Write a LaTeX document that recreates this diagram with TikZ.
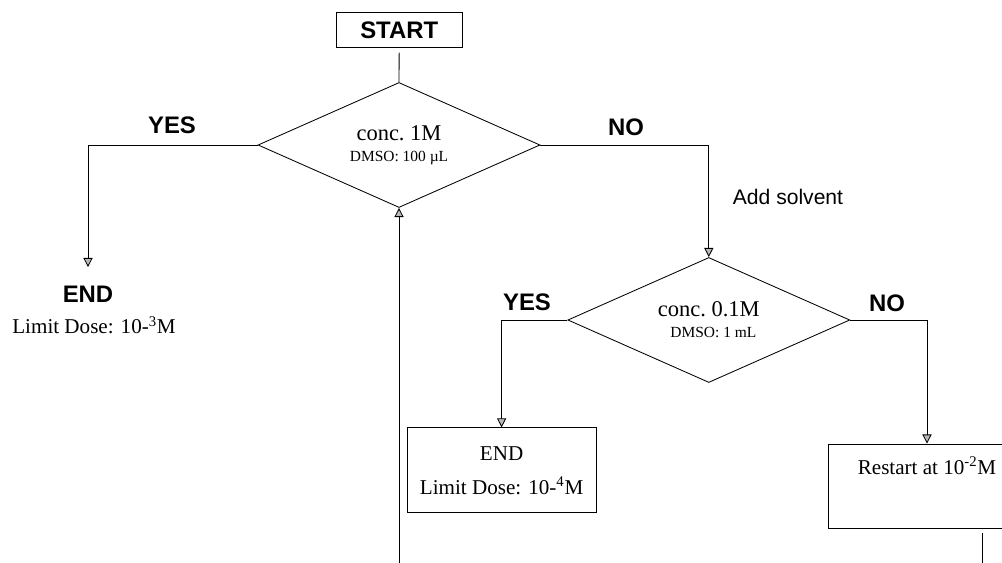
\documentclass[tikz,border=0pt]{standalone}
\usepackage{fontspec}
\setmainfont{Liberation Serif}
\setsansfont{Liberation Sans}
\usetikzlibrary{arrows.meta,shapes.geometric}

\begin{document}
\begin{tikzpicture}[line width=0.6pt,>={Triangle[length=6.5pt,width=6.5pt,fill=gray!55]},
  every node/.style={font=\fontsize{15}{18}\selectfont},
  decision/.style={draw,diamond,aspect=2.25,minimum width=7.05cm,minimum height=3.125cm,inner sep=0pt,align=center,
    font=\fontsize{16}{18}\selectfont},
  stepbox/.style={draw,rectangle,inner sep=0pt,align=center},
  answer/.style={font=\sffamily\bfseries\fontsize{17}{20}\selectfont}]
  \useasboundingbox (0,0) rectangle (25.05,-14.05);
  % start and first test
  \node[stepbox,minimum width=3.15cm,minimum height=0.875cm,answer] (start) at (9.98,-0.76) {START};
  \node[decision] (conc1) at (9.975,-3.625) {conc.~1M\\[-3pt]{\fontsize{11}{12}\selectfont DMSO:~100~µL}};
  \draw[shorten <=3pt] (start.south) -- (conc1.north);
  % yes: stop at once
  \node[answer,inner sep=0pt] (end1) at (2.2,-7.35) {END};
  \node (dose1) at (2.35,-8.125) {Limit Dose: 10-\textsuperscript{3}M};
  \draw[->,shorten >=13pt] (conc1.west) -| (end1.north);
  \node[answer] (yes1) at (4.3,-3.125) {YES};
  % no: add solvent, second test
  \node[decision] (conc2) at (17.72,-8.0) {conc.~0.1M\\[-3pt]{\fontsize{11}{12}\selectfont\hspace{0.6em}DMSO:~1~mL}};
  \draw[->] (conc1.east) -| (conc2.north);
  \node[answer] (no1) at (15.65,-3.175) {NO};
  \node[font=\sffamily\fontsize{15}{18}\selectfont] (solvent) at (19.7,-4.925) {Add solvent};
  % yes: stop
  \node[stepbox,minimum width=4.725cm,minimum height=2.125cm] (end2) at (12.54,-11.76) {END\\[6pt]Limit Dose: 10-\textsuperscript{4}M};
  \draw[->] (conc2.west) -| (end2.north);
  \node[answer] (yes2) at (13.175,-7.55) {YES};
  % no: restart
  \node[stepbox,minimum width=4.95cm,text height=0.75cm,text depth=1.35cm] (restart) at (23.175,-12.15) {Restart at 10\textsuperscript{-2}M};
  \draw[->] (conc2.east) -| (restart.north);
  \node[answer] (no2) at (22.175,-7.575) {NO};
  % lines running off the page
  \coordinate (back) at (9.975,-14.3);
  \draw[->] (back) -- (conc1.south);
  \coordinate (out) at (24.55,-14.3);
  \draw[shorten <=0.12cm] (restart.south -| out) -- (out);
\end{tikzpicture}
\end{document}
